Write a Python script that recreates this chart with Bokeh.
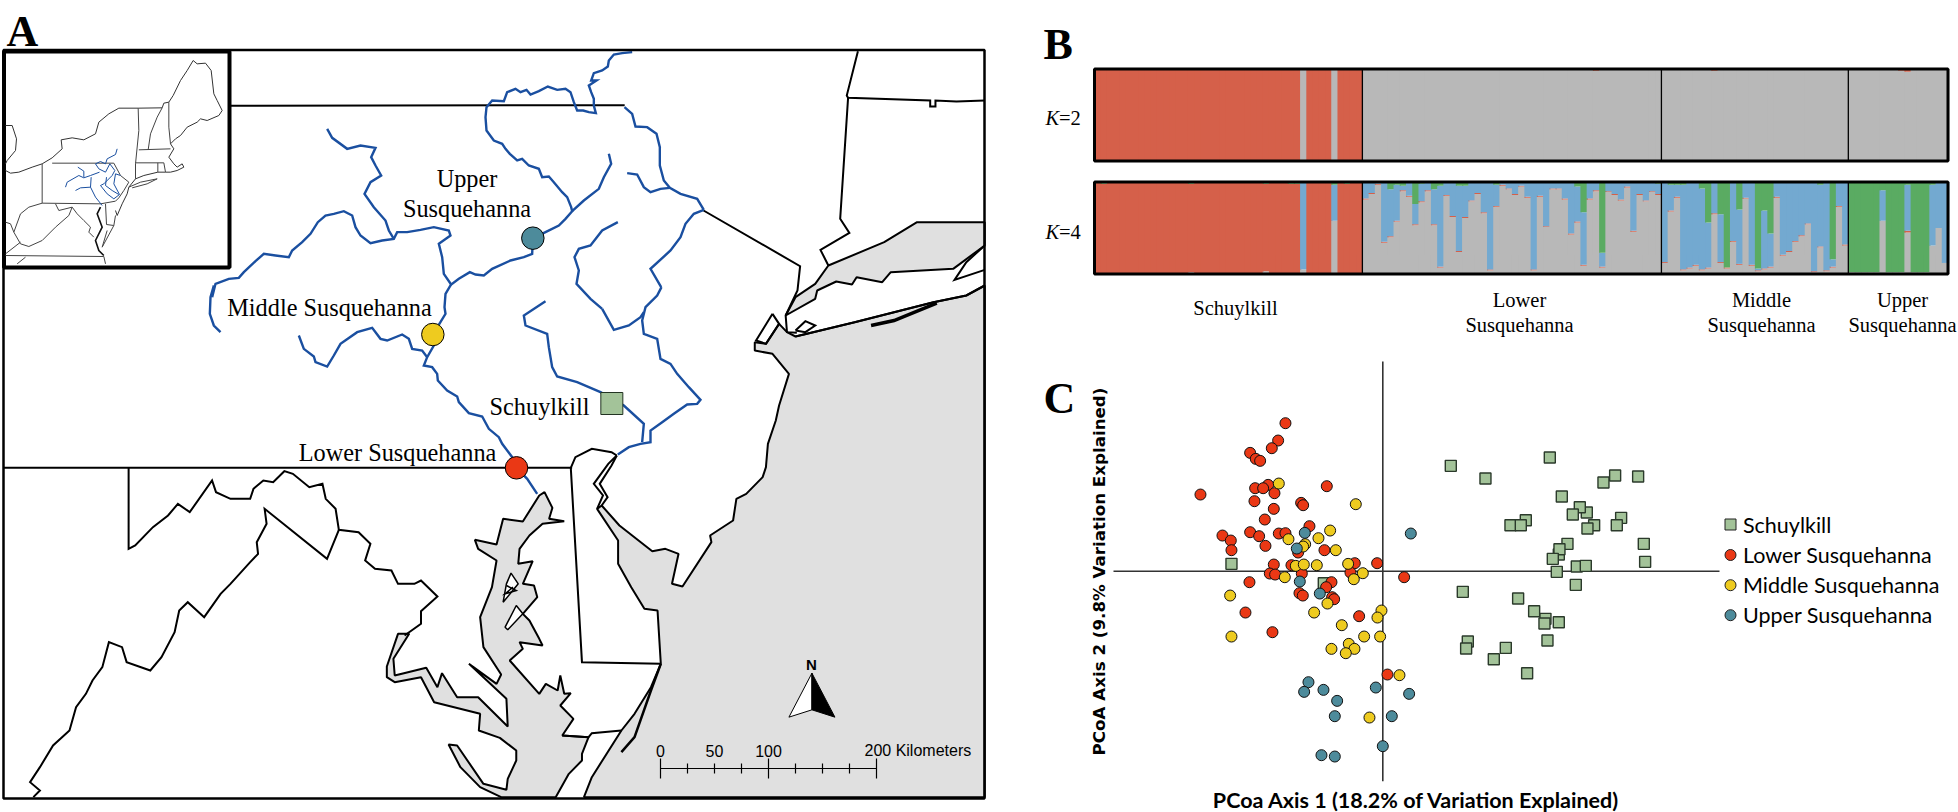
import numpy as np
from bokeh.plotting import figure
from bokeh.layouts import row, column
from bokeh.models import Range1d
from bokeh.core.properties import value
from bokeh.embed import file_html
from bokeh.resources import INLINE

# ---------- Panel C data: PCoA scores (readings) ----------
lower_x = [405,383,364,299,316,329,353,314,338,372,150,529,312,370,452,458,343,477,216,241,243,299,326,345,385,405,522,443,370,423,680,613,358,374,454,600,297,543,527,761,447,457,545,551,285,366,626,711]
lower_y = [68,120,143,157,175,181,253,263,263,278,282,257,302,325,307,314,357,377,405,420,449,395,407,436,399,398,449,456,492,494,488,488,519,522,519,516,545,545,560,530,578,585,590,596,636,695,647,822]
middle_x = [385,616,539,414,504,464,458,556,436,460,499,593,403,637,610,239,531,491,693,681,574,243,641,689,595,612,543,586,747,657]
middle_y = [249,311,390,416,413,431,438,449,496,492,494,490,530,518,536,585,609,636,630,651,674,708,708,708,730,745,745,758,824,951]
upper_x = [463,439,448,508,781,474,461,519,676,776,560,553,724,697,513,553]
upper_y = [397,444,543,579,399,845,874,868,861,880,901,947,947,1037,1064,1068]
schuyl_x = [301,405,598,759,794,863,634,709,688,667,526,480,511,731,711,812,799,880,651,625,627,607,884,679,706,619,676,337,503,551,585,582,625,591,352,347,466,430,530,-357,-80]
schuyl_y = [106,144,81,156,135,138,198,246,230,252,269,284,284,284,294,262,284,340,340,372,356,385,394,408,406,424,463,484,504,542,565,579,575,630,633,654,652,686,728,400,458]

# ---------- Panel B data: membership percentages per individual ----------
groups = ["Schuylkill", "Lower Susquehanna", "Middle Susquehanna", "Upper Susquehanna"]
group_sizes = [43, 48, 30, 16]

k2_gray_s = [1]*33 + [100] + [1]*4 + [100] + [1]*4
k2_red_rest = [0,0,1,1,0,0,0,0,0,0,0,1,0,0,0,0,0,0,1,0,0,0,0,0,0,1,0,0,0,0,0,0,0,0,0,0,0,2,0,0,0,0,0,0,0,0,0,1,
               1,1,0,0,1,1,0,0,2,0,0,0,1,1,0,0,1,0,0,1,1,0,0,1,0,0,0,1,1,0,
               1,1,0,0,1,0,1,1,2,3,1,0,1,1,1,0]

k4_s_gray = [1]*15+[2]+[1]*11+[3]+[1]*5+[5]+[1]*4+[58]+[1]*4
k4_s_green = [1,2,1,1,1,1,1,0,1,1,1,1,1,1,1,2,1,1,1,1,1,1,1,1,1,1,1,2,1,1,1,2,2,0,1,1,1,1,3,1,2,1,1]
k4_s_blue = [0]*33+[95]+[0]*4+[39]+[0]*4

k4_l_gray = [81,87,97,34,40,57,90,84,53,78,90,53,7,85,62,24,61,79,87,66,4,73,96,92,86,95,83,4,84,51,92,92,81,43,56,9,81,90,7,89,86,80,94,46,86,79,89,86]
k4_l_green = [0,0,0,1,8,3,4,1,24,2,1,8,4,1,1,4,4,1,1,1,1,3,0,1,1,0,0,0,0,0,0,1,1,1,5,33,1,1,77,1,1,1,1,1,1,1,1,2]
k4_m_gray = [12,68,83,4,6,9,4,6,65,12,6,35,10,82,9,3,5,7,83,20,24,35,41,54,2,29,3,7,73,31]
k4_m_green = [0,3,3,3,1,1,7,44,0,35,93,0,30,1,1,94,31,56,1,1,1,1,1,1,1,3,0,84,1,0]
k4_u_gray = [2,2,2,2,2,58,2,2,2,45,2,2,2,31,50,12]
k4_u_green = [98,98,98,98,98,9,98,98,98,3,98,98,98,3,1,0]
k4_u_red = [0,0,0,0,0,0,0,0,0,2,0,0,0,0,0,0]

# ---------- Panel A data: map traces ----------
NE_BORDER = [(350,316),(950,314)]
NJ_NY = [(1070,630),(1217,797),(1213,870),(1195,945),(1197,995),(1212,997)]
CT_TOP = [(1305,152),(1288,285),(1290,292),(1415,300),(1415,318),(1423,318),(1423,300),(1455,303),(1498,300)]
CT_W = [(1290,292),(1278,655),(1292,697),(1248,748),(1260,795)]
SOUND = [(1498,665),(1395,665),(1345,725),(1260,795),(1240,850),(1210,890),(1195,945),(1240,895),(1243,870),(1272,843),(1296,852),(1303,830),(1342,845),(1355,815),(1450,805),(1498,735)]
FORK = [(1498,735),(1470,785),(1452,838),(1498,808)]
LI_S = [(1498,855),(1470,885),(1420,905),(1300,965),(1210,1008)]
LI_BAR = [(1325,975),(1360,960),(1425,908)]
SI = [(1210,990),(1225,962),(1240,975),(1225,995),(1210,990)]
HARBOR = [(1175,940),(1150,1020),(1165,1030),(1185,970),(1175,940)]
OCEAN_N = [(1498,855),(1470,885),(1420,905),(1300,965),(1210,1008),(1197,995),(1185,970),(1165,1030),(1148,1025),(1148,1050),(1175,1060),(1200,1120),(1185,1215),(1180,1260)]
OCEAN_S = [(1180,0),(1168,70),(1165,140),(1160,170),(1135,220),(1120,235),(1115,300),(1080,345),(1082,365),(1038,498),(1022,490),(1032,400),(1012,385),(992,392),(942,315),(915,255),(908,265),(940,360),(940,430),(960,500),(980,565),(1000,570),(1005,730),(990,800),(965,880),(945,930),(900,1070),(888,1130),(1498,1130)]
BAY = [(820,225),(828,215),(840,262),(835,295),(858,302),(825,310),(805,345),(790,385),(788,430),(810,422),(795,490),(812,495),(817,530),(795,580),(805,600),(820,655),(825,675),(790,665),(795,685),(775,720),(820,820),(830,790),(848,810),(852,765),(858,820),(868,818),(852,855),(872,895),(855,945),(895,950),(885,1000),(885,1020),(865,1060),(845,1130),(762,1130),(730,1100),(700,1040),(682,972),(695,975),(735,1090),(770,1108),(772,1075),(785,1020),(785,990),(760,952),(728,930),(730,880),(660,845),(640,770),(600,785),(588,770),(588,738),(605,640),(622,640),(598,715),(600,765),(648,742),(665,800),(672,758),(695,830),(727,830),(772,918),(770,835),(713,730),(755,790),(762,762),(735,680),(730,590),(748,500),(755,420),(727,385),(722,358),(755,372),(765,295),(795,303)]
ISLAND1 = [(777,458),(788,490),(765,545),(770,490),(777,458)]
ISLAND1B = [(770,495),(785,510),(768,520),(780,500)]
ISLAND2 = [(785,555),(768,620),(772,628),(795,580),(785,555)]
MD_PA = [(5,142),(870,142)]
DE = [(938,105),(930,95),(900,85),(875,110),(868,142),(885,725),(1005,730)]
DE_SEG = [(855,945),(895,950),(900,938),(945,930)]
DEL_W = [(938,105),(925,130),(903,190),(917,225),(908,265)]
DEL_E = [(938,105),(930,135),(912,190),(924,230),(915,255)]
BARRIER = [(1005,730),(990,810),(965,950),(945,995)]
WMD = [(195,142),(195,385),(205,375),(232,320),(255,285),(270,250),(288,275),(322,180),(328,215),(350,235),(380,235),(385,205),(400,180),(415,185),(432,152),(445,160),(470,200),(490,190),(495,235),(510,265),(515,328),(545,335),(563,370),(555,420),(570,445),(595,450),(605,490),(630,490),(640,480),(665,528),(640,572),(640,610),(615,645)]
VA = [(515,328),(497,415),(402,265),(405,310),(390,365),(392,400),(380,425),(350,490),(335,520),(310,590),(285,545),(272,570),(265,635),(245,710),(228,750),(192,725),(185,680),(165,665),(155,740),(140,780),(130,820),(115,860),(105,930),(80,975),(60,1040),(45,1085),(60,1110),(50,1130)]

R_MAIN_N = [(1295,5),(1265,8),(1240,12),(1225,30),(1222,48),(1205,60),(1180,68),(1172,90),(1188,90),(1165,105),(1172,125),(1180,145),(1180,165),(1186,188),(1165,185),(1148,180),(1130,180),(1120,155),(1110,125),(1095,115),(1070,118),(1042,108),(1015,122),(990,132),(978,118),(960,125),(945,115),(920,125),(910,152),(875,150),(858,170),(855,200),(858,240),(880,270),(905,280),(915,295),(928,310),(950,330),(965,325),(985,345),(1015,355),(1025,380),(1045,378),(1060,395),(1085,425),(1100,440),(1112,470),(1115,482),(1095,505),(1075,525),(1035,545),(997,563),(995,610),(970,620),(930,630),(875,655),(850,675),(825,672),(808,665),(775,685),(752,702)]
R_MAIN_S = [(750,45),(735,70),(732,110),(735,130),(697,192),(700,225),(680,260),(670,285),(695,290),(710,310),(712,330),(740,360),(770,378),(775,395),(805,428),(845,438),(865,475),(895,500),(905,520),(935,560),(948,592),(980,625),(1010,670)]
R_WEST = [(752,702),(730,670),(725,620),(715,580),(750,555),(745,540),(700,530),(660,538),(620,545),(590,545),(580,565),(545,570),(510,578),(480,555),(465,530),(455,495),(430,482),(400,490),(375,495),(352,515),(330,550),(305,575),(275,600),(265,620),(225,615),(190,610),(165,632),(130,665),(115,682),(85,685),(45,700),(35,740)]
R_WEST_END = [(40,45),(30,80),(28,130),(40,165),(60,185)]
R_TRIB = [(380,235),(395,262),(440,295),(480,285),(525,292),(512,320),(525,345),(542,375),(510,395),(492,430),(520,470),(555,510),(565,540),(580,565)]
R_BR = [(1115,482),(1150,450),(1195,415),(1210,380),(1232,340),(1225,310)]
R_DEL_U = [(1272,170),(1295,190),(1305,228),(1340,230),(1368,250),(1378,290),(1378,345),(1390,390),(1408,412),(1440,430),(1490,445),(1510,478)]
R_DEL_SIDE = [(1280,368),(1310,372),(1330,410),(1350,425),(1380,415),(1408,412)]
R_DEL_L1 = [(1510,478),(1480,490),(1455,520),(1440,560),(1410,600),(1350,655),(1382,710)]
R_DEL_L2 = [(1383,50),(1370,75),(1335,110),(1325,150),(1330,190),(1370,205),(1380,265),(1410,280),(1430,310),(1465,350),(1500,388),(1490,400),(1460,402),(1420,430),(1385,455),(1350,480),(1350,515),(1320,520),(1285,530),(1252,552)]
R_LEH1 = [(1252,515),(1205,540),(1170,585),(1135,595),(1122,620),(1135,660),(1128,700),(1170,745),(1205,775)]
R_LEH2 = [(1205,115),(1240,178),(1285,165),(1320,140),(1330,125)]
R_JUN = [(680,260),(665,240),(635,235),(625,205),(605,192),(560,210),(540,205),(515,172),(470,185),(420,220),(400,255),(380,288),(345,275),(340,258),(310,235),(295,195)]
R_SCH = [(1035,92),(970,135),(975,165),(1040,190),(1045,230),(1055,290),(1070,318),(1130,335),(1200,365),(1270,405),(1330,460),(1325,515)]

IN_MICH = [(15,225),(35,225),(48,265),(45,300),(20,330),(15,340)]
IN_NE = [(15,360),(30,368),(55,365),(95,350),(125,340),(155,322),(185,295),(182,268),(215,262),(250,268),(285,250),(295,215),(325,190),(355,173),(413,173),(485,172),(490,158),(505,155),(518,135),(540,90),(560,60),(578,30),(590,40),(615,38),(632,60),(640,130),(650,150),(665,180),(655,195),(620,210),(600,205),(590,215),(560,230),(540,255),(525,265),(510,280),(520,295),(505,320),(520,340),(530,350),(545,340),(550,350),(530,360),(510,365),(495,365),(472,365),(430,375),(405,385),(385,410),(380,430),(365,460),(350,495),(345,480)]
IN_STATES = [[(413,173),(415,240),(405,340),(405,385)],[(485,172),(470,200),(450,250),(443,298)],[(505,155),(505,230),(510,280)],[(415,298),(510,295)],[(405,337),(490,337),(495,365)],[(472,337),(472,365)],
             [(385,410),(420,395),(470,385),(440,400),(395,412)],
             [(125,340),(125,458),(300,460),(345,452),(355,442),(370,420),(385,395),(360,375),(340,338),(155,338)],
             [(315,460),(318,522),(340,525),(345,495)],
             [(15,515),(30,520),(40,545),(60,580),(85,588),(125,570),(165,530),(205,495),(215,470),(230,490)],[(215,470),(175,480),(165,460)],[(40,545),(60,490),(85,470),(125,458)],
             [(15,615),(310,618),(315,640)],[(15,610),(60,575)],[(50,640),(75,620)],[(320,540),(305,590),(340,525)],[(250,510),(270,530),(265,545),(280,560)],[(230,490),(250,510)]]
IN_BAY = [(300,470),(290,490),(305,530),(285,570),(295,600),(310,615)]
IN_RIVERS = [[(350,295),(345,312),(320,325),(315,340),(300,333),(285,340),(295,355),(315,365),(328,340),(343,360),(335,375),(310,400),(300,405),(320,430),(340,445),(357,432),(340,400),(345,370),(360,375)],
             [(195,410),(200,395),(235,375),(250,382),(270,375),(297,365)],[(232,350),(250,362),(250,380)],[(225,420),(240,412),(270,410),(272,380)],[(270,410),(285,440),(305,465)],[(318,380),(315,405),(335,420),(355,432)]]

SCALE_KM = [0,25,50,75,100,125,150,175,200]

def f3(pts):
    return [p[0]/1.522 for p in pts], [p[1]/3 for p in pts]
def f4(pts):
    return [p[0]/1.522 for p in pts], [420+p[1]/3 for p in pts]
def f34(a, b):
    x3,y3 = f3(a); x4,y4 = f4(b)
    return x3+x4, y3+y4
def q1(pts):
    return [200+p[0]/3 for p in pts], [50+p[1]/3 for p in pts]
def q2(pts):
    return [200+p[0]/3 for p in pts], [270+p[1]/3 for p in pts]
def q3(pts):
    return [p[0]/3 for p in pts], [50+p[1]/3 for p in pts]
def q12(a, b):
    x1,y1 = q1(a); x2,y2 = q2(b)
    return x1+x2, y1+y2

SERIF = value("Liberation Serif")
SANS = value("Liberation Sans")
LATO = value("Lato")
RED, YEL, TEAL, GRN = "#ea3815", "#eecb1f", "#4d8b9b", "#a3c399"
K_RED, K_GRAY, K_BLUE, K_GRN = "#d5604a", "#b8b8b8", "#73a9d0", "#5aab62"
RIVER = "#1a4fa0"
OCEAN = "#e0e0e0"

def base(w, h, xr, yr):
    p = figure(width=w, height=h, x_range=Range1d(*xr), y_range=Range1d(*yr), output_backend="svg",
               toolbar_location=None, min_border=0, outline_line_color=None, x_axis_location=None, y_axis_location=None)
    p.grid.visible = False
    return p

# ================= Panel A =================
a = base(1040, 812, (0,1040), (812,0))
def L(p, xy, color="black", w=2.0):
    p.line(xy[0], xy[1], line_color=color, line_width=w, line_join="miter")

ox, oy = f34(OCEAN_N, OCEAN_S)
a.patch(ox, oy, fill_color=OCEAN, line_color="black", line_width=2)
sx, sy = f3(SOUND)
a.patch(sx, sy, fill_color=OCEAN, line_color="black", line_width=2)
bx_, by_ = f4(BAY)
a.patch(bx_, by_, fill_color=OCEAN, line_color="black", line_width=2)
for seg in (NE_BORDER, NJ_NY, CT_TOP, CT_W, FORK, LI_S, SI, HARBOR):
    L(a, f3(seg))
L(a, f3(LI_BAR), w=3.5)
a.patch(*f4(ISLAND1), fill_color="white", line_color="black", line_width=1.5)
a.patch(*f4(ISLAND2), fill_color="white", line_color="black", line_width=1.5)
L(a, f4(ISLAND1B), w=1.5)
for seg in (MD_PA, DE, DE_SEG, WMD, VA, DEL_W, DEL_E):
    L(a, f4(seg))
L(a, f4(BARRIER), w=2.5)
# rivers
RW = 2.4
for seg in (R_TRIB, R_BR, R_DEL_U, R_DEL_SIDE, R_DEL_L1, R_LEH1):
    L(a, q1(seg), RIVER, RW)
for seg in (R_JUN, R_SCH, R_DEL_L2, R_LEH2):
    L(a, q2(seg), RIVER, RW)
L(a, q12(R_MAIN_N, R_MAIN_S), RIVER, RW)
L(a, q12(R_WEST, R_WEST_END), RIVER, RW)
L(a, q12(R_LEH1[-1:], R_LEH2[:1]), RIVER, RW)
L(a, q12(R_DEL_L1[-1:], R_DEL_L2[:1]), RIVER, RW)
# sites
a.scatter(*q1([(997,563)]), marker="circle", size=22.5, fill_color=TEAL, line_color="black", line_width=1)
a.scatter(*q2([(697,192)]), marker="circle", size=22.5, fill_color=YEL, line_color="black", line_width=1)
a.scatter(*q2([(948,592)]), marker="circle", size=22.5, fill_color=RED, line_color="black", line_width=1)
a.scatter(*q2([(1234,399)]), marker="square", size=22, fill_color=GRN, line_color="#223322", line_width=1)
def T(p, x, y, s, size, font=SERIF, style="normal", align="center", base="middle", color="black", angle=0):
    p.text([x],[y],text=[s],text_font=font,text_font_size=f"{size}px",text_font_style=style,text_align=align,
           text_baseline=base,text_color=color,angle=angle)
T(a,466.5,178,"Upper",24.3); T(a,466.5,208,"Susquehanna",24.3)
T(a,329,306.5,"Middle Susquehanna",24.3); T(a,539,405.5,"Schuylkill",24.3); T(a,397,451.5,"Lower Susquehanna",24.3)
# frame
a.quad(left=[3],right=[984],top=[49.5],bottom=[798],fill_color=None,line_color="black",line_width=2.5)
a.quad(left=[3.5],right=[229],top=[51],bottom=[267],fill_color="white",line_color="black",line_width=4)
# inset
L(a, q3(IN_MICH), "#333333", 1); L(a, q3(IN_NE), "#333333", 1)
for seg in IN_STATES:
    L(a, q3(seg), "#444444", 1)
L(a, q3(IN_BAY), "#111111", 1.6)
for seg in IN_RIVERS:
    L(a, q3(seg), RIVER, 1)
# north arrow
a.patch(*f4([(1235,758),(1200,890),(1235,868)]), fill_color="white", line_color="black", line_width=1)
a.patch(*f4([(1235,758),(1270,890),(1235,868)]), fill_color="black", line_color="black", line_width=1)
T(a,811,664,"N",15,SANS,"bold")
# scale bar: km positions through a linear map
km = np.array(SCALE_KM, float)
km_px = 660 + km*(876-660)/200
a.line([km_px[0],km_px[-1]],[768,768],line_color="black",line_width=1.2)
a.segment(km_px,[763 if k%100 else 758 for k in SCALE_KM],km_px,[773 if k%100 else 778 for k in SCALE_KM],line_color="black",line_width=1.2)
T(a,km_px[0],750,"0",16,SANS); T(a,km_px[2],750,"50",16,SANS); T(a,km_px[4],750,"100",16,SANS)
T(a,864,750,"200 Kilometers",16,SANS,align="left")
T(a,6,31,"A",44,SERIF,"bold",align="left",base="alphabetic")

# ================= Panel B =================
W = (1947.5-1094)/137
YS = 0.92
bX = lambda px: (px-1094)/W
bY = lambda py: (273.5-py)/YS
b = base(918, 360, (bX(1040),bX(1958)), (bY(360),bY(0)))
K2_OFF = (273.5-160.5)/YS
n = sum(group_sizes)
# K=2: gray, red from the bottom
k2_gray = np.array(k2_gray_s + [100-v for v in k2_red_rest], float)
k2_red = 100-k2_gray
# K=4
g4 = np.array(k4_s_gray+k4_l_gray+k4_m_gray+k4_u_gray, float)
gr4 = np.array(k4_s_green+k4_l_green+k4_m_green+k4_u_green, float)
bl_s = np.array(k4_s_blue, float)
red_rest = np.array([1]*(n-43-16)+k4_u_red, float)
rd4 = np.concatenate([100-np.array(k4_s_gray)-np.array(k4_s_green)-bl_s, red_rest])
bl4 = np.clip(100-g4-gr4-rd4,0,None)
def stack(off, parts, colors):
    # individuals drawn left to right; each slightly overlaps the next to avoid seams
    L_, R_, B_, T_, C_ = [], [], [], [], []
    for i in range(n):
        bot = off
        for v,c in zip(parts,colors):
            if v[i] <= 0:
                continue
            L_.append(i); R_.append(i+1.2); B_.append(bot); T_.append(bot+v[i]); C_.append(c)
            bot += v[i]
    b.quad(left=L_,right=R_,bottom=B_,top=T_,fill_color=C_,line_color=None)
stack(K2_OFF,[k2_gray,k2_red],[K_GRAY,K_RED])
stack(0.0,[g4,rd4,bl4,gr4],[K_GRAY,K_RED,K_BLUE,K_GRN])
bounds = np.cumsum(group_sizes)[:-1]
for off in (0.0, K2_OFF):
    b.segment(bounds,[off]*3,bounds,[off+100]*3,line_color="black",line_width=1.3)
    b.quad(left=[0],right=[n],bottom=[off],top=[off+100],fill_color=None,line_color="black",line_width=3)
T(b,bX(1045),bY(117),"K",20.5,SERIF,"italic",align="left"); T(b,bX(1058.5),bY(117),"=2",20.5,SERIF,align="left")
T(b,bX(1045),bY(231),"K",20.5,SERIF,"italic",align="left"); T(b,bX(1058.5),bY(231),"=4",20.5,SERIF,align="left")
T(b,bX(1235),bY(307),"Schuylkill",20.5)
for cx,t in ((1519,"Lower"),(1761,"Middle"),(1902,"Upper")):
    T(b,bX(cx),bY(299),t,20.5); T(b,bX(cx),bY(324),"Susquehanna",20.5)
T(b,bX(1043),bY(44),"B",44,SERIF,"bold",align="left",base="alphabetic")

# ================= Panel C =================
cxp = 1382.3-1040; cyp = 570.7-360
c = base(918, 452, (-cxp*3,(918-cxp)*3), (-(452-cyp)*3,cyp*3))
c.segment([(1113-1382.3)*3],[0],[(1719-1382.3)*3],[0],line_color="#333333",line_width=1.6)
c.segment([0],[(570.7-780.7)*3],[0],[(570.7-361)*3],line_color="#333333",line_width=1.6)
sx_ = np.array(schuyl_x)-97; sy_ = 422-np.array(schuyl_y)
c.scatter(sx_,sy_,marker="square",size=11,fill_color=GRN,line_color="#2b3a2b",line_width=1.4)
for xs,ys,col in ((lower_x,lower_y,RED),(middle_x,middle_y,YEL),(upper_x,upper_y,TEAL)):
    c.scatter(np.array(xs)-697,512-np.array(ys),marker="circle",size=11,fill_color=col,line_color="#111111",line_width=1)
cX = lambda px:(px-1382.3)*3
cY = lambda py:(570.7-py)*3
leg_y = [524,554.5,584.7,614.7]
for g,y,col,mk in zip(groups,leg_y,(GRN,RED,YEL,TEAL),("square","circle","circle","circle")):
    c.scatter([cX(1730)],[cY(y)],marker=mk,size=11,fill_color=col,line_color="#222222",line_width=1)
    T(c,cX(1742.5),cY(y),g,21.5,LATO,align="left")
T(c,cX(1416),cY(799),"PCoa Axis 1 (18.2% of Variation Explained)",21.5,LATO,"bold")
T(c,cX(1098),cY(571),"PCoA Axis 2 (9.8% Variation Explained)",16.7,value("DejaVu Sans"),"bold",angle=np.pi/2)
T(c,cX(1043),cY(398),"C",44,SERIF,"bold",align="left",base="alphabetic")

layout = row(a, column(b, c, spacing=0), spacing=0)
open("out.html","w").write(file_html(layout, INLINE))
